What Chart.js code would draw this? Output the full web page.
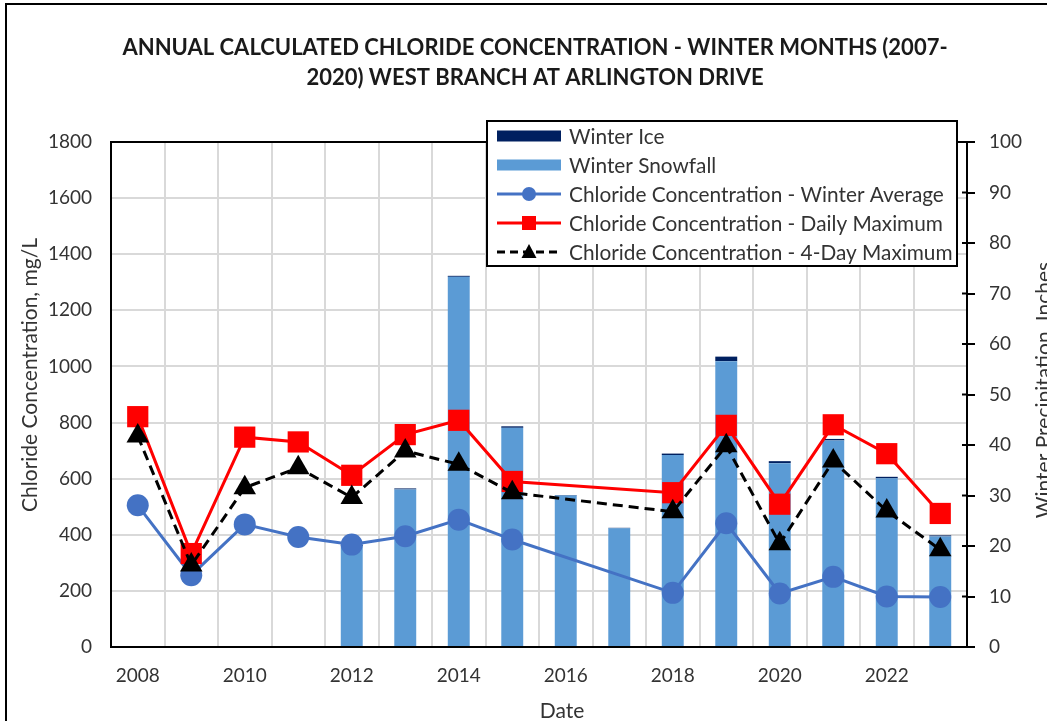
<!DOCTYPE html>
<html>
<head>
<meta charset="utf-8">
<script src="https://cdn.jsdelivr.net/npm/chart.js@4.4.1/dist/chart.umd.min.js"></script>
<style>
html,body{margin:0;padding:0;overflow:hidden;background:#fff;width:1047px;height:721px;}
#wrap{position:absolute;left:0;top:0;width:1080px;height:740px;}
</style>
</head>
<body>
<div id="wrap"><canvas id="c" width="1080" height="740" style="width:1080px;height:740px"></canvas></div>
<script>
// ---------- data ----------
const years = ['2008','2009','2010','2011','2012','2013','2014','2015','2016','2017','2018','2019','2020','2021','2022','2023'];
const xTickLabels = ['2008','2010','2012','2014','2016','2018','2020','2022'];
const winterSnowfall = [null,null,null,null,20.0,31.2,73.3,43.4,30.0,23.5,38.0,56.6,36.4,40.9,33.4,21.9];
const winterIce      = [null,null,null,null,0.2,0.2,0.2,0.3,0.1,0.1,0.3,0.9,0.4,0.3,0.3,0.2];
const winterAverage  = [505,256,437,392,365,395,454,383,null,null,193,441,191,250,180,178];
const dailyMaximum   = [821,333,748,731,612,757,808,590,null,null,550,790,509,792,689,476];
const fourDayMaximum = [752,292,568,639,533,699,651,550,null,null,482,717,368,663,485,347];
const leftAxisTicks  = [0,1800,200];   // min, max, step
const rightAxisTicks = [0,100,10];     // min, max, step

const titleLines = ['ANNUAL CALCULATED CHLORIDE CONCENTRATION - WINTER MONTHS (2007-', '2020) WEST BRANCH AT ARLINGTON DRIVE'];
const xTitle = 'Date';
const yTitle = 'Chloride Concentration, mg/L';
const y1Title = 'Winter Precipitation, Inches';

const TXT = '#333333';
const FONT = 'Lato';

const deco = {
  id: 'deco',
  beforeDraw(chart) {
    const c = chart.ctx;
    c.save();
    c.fillStyle = '#fff';
    c.fillRect(0, 0, chart.width, chart.height);
    c.restore();
  },
  afterDatasetsDraw(chart) {
    const c = chart.ctx;
    const a = chart.chartArea;
    c.save();
    // top border of plot area
    c.strokeStyle = '#000';
    c.lineWidth = 2;
    c.beginPath();
    c.moveTo(a.left, a.top);
    c.lineTo(a.right, a.top);
    c.stroke();
    // inner part of right axis tick marks
    const y1 = chart.scales.y1;
    y1.ticks.forEach(t => {
      const py = y1.getPixelForValue(t.value);
      c.beginPath();
      c.moveTo(a.right - 5, py);
      c.lineTo(a.right, py);
      c.stroke();
    });

    // legend
    const L = {x: 487, y: 121, w: 470, h: 145};
    c.fillStyle = '#fff';
    c.fillRect(L.x, L.y, L.w, L.h);
    c.strokeStyle = '#000';
    c.lineWidth = 2;
    c.strokeRect(L.x, L.y, L.w, L.h);
    const ds = chart.data.datasets;
    const order = [1, 0, 2, 3, 4];
    const rowY = [136, 165, 194, 223, 252];
    const sx0 = 497, sx1 = 561, tx = 569;
    c.font = '20.8px ' + FONT;
    c.textBaseline = 'middle';
    c.textAlign = 'left';
    order.forEach((di, k) => {
      const d = ds[di];
      const y = rowY[k];
      if (d.type === 'bar') {
        c.fillStyle = d.backgroundColor;
        c.fillRect(sx0, y - 5.5, sx1 - sx0, 11);
      } else {
        c.save();
        c.strokeStyle = d.borderColor;
        c.lineWidth = 3;
        if (d.borderDash) c.setLineDash([8, 5]);
        c.beginPath();
        c.moveTo(sx0, y);
        c.lineTo(sx1, y);
        c.stroke();
        c.restore();
        const mx = (sx0 + sx1) / 2;
        c.fillStyle = d.backgroundColor;
        c.beginPath();
        if (d.pointStyle === 'circle') {
          c.arc(mx, y, 7, 0, Math.PI * 2);
        } else if (d.pointStyle === 'rect') {
          c.rect(mx - 7, y - 7, 14, 14);
        } else {
          c.moveTo(mx, y - 8);
          c.lineTo(mx + 7.5, y + 6);
          c.lineTo(mx - 7.5, y + 6);
          c.closePath();
        }
        c.fill();
      }
      c.fillStyle = TXT;
      c.fillText(d.label, tx, y + 1);
    });
    c.restore();
  },
  afterDraw(chart) {
    const c = chart.ctx;
    c.save();
    // outer chart border
    c.strokeStyle = '#000';
    c.lineWidth = 2;
    c.strokeRect(6, 4, 1200, 900);
    // title
    c.fillStyle = '#1a1a1a';
    c.textAlign = 'center';
    c.textBaseline = 'alphabetic';
    c.font = 'bold 22px Lato';
    c.fillText(titleLines[0], 535, 55);
    c.fillText(titleLines[1], 535, 85);
    // axis titles
    c.fillStyle = TXT;
    c.font = '21px ' + FONT;
    c.fillText(xTitle, 562, 718);
    c.save();
    c.translate(37, 375);
    c.rotate(-Math.PI / 2);
    c.fillText(yTitle, 0, 0);
    c.restore();
    c.save();
    c.translate(1051, 390);
    c.rotate(-Math.PI / 2);
    c.fillText(y1Title, 0, 0);
    c.restore();
    c.restore();
  }
};

const tickFont = {family: FONT, size: 19};

new Chart(document.getElementById('c'), {
  type: 'bar',
  data: {
    labels: years,
    datasets: [
      {type: 'bar', label: 'Winter Snowfall', data: winterSnowfall, backgroundColor: '#5b9bd5',
       yAxisID: 'y1', stack: 'precip', order: 10, barPercentage: 0.41, categoryPercentage: 1},
      {type: 'bar', label: 'Winter Ice', data: winterIce, backgroundColor: '#002060',
       yAxisID: 'y1', stack: 'precip', order: 10, barPercentage: 0.41, categoryPercentage: 1},
      {type: 'line', label: 'Chloride Concentration - Winter Average', data: winterAverage,
       borderColor: '#4472c4', backgroundColor: '#4472c4', borderWidth: 3, tension: 0,
       pointStyle: 'circle', pointRadius: 11, pointBorderWidth: 0, pointBorderColor: '#4472c4',
       spanGaps: true, yAxisID: 'y', order: 3},
      {type: 'line', label: 'Chloride Concentration - Daily Maximum', data: dailyMaximum,
       borderColor: '#ff0000', backgroundColor: '#ff0000', borderWidth: 3, tension: 0,
       pointStyle: 'rect', pointRadius: 15, pointBorderWidth: 0, pointBorderColor: '#ff0000',
       spanGaps: true, yAxisID: 'y', order: 2},
      {type: 'line', label: 'Chloride Concentration - 4-Day Maximum', data: fourDayMaximum,
       borderColor: '#000000', backgroundColor: '#000000', borderWidth: 3, borderDash: [10, 6], tension: 0,
       pointStyle: 'triangle', pointRadius: 13, pointBorderWidth: 0, pointBorderColor: '#000000',
       spanGaps: true, yAxisID: 'y', order: 1}
    ]
  },
  options: {
    responsive: false,
    animation: false,
    devicePixelRatio: 1,
    layout: {padding: {top: 142, left: 0, right: 0, bottom: 0}},
    plugins: {legend: {display: false}, tooltip: {enabled: false}, title: {display: false}},
    scales: {
      x: {
        stacked: true,
        offset: true,
        grid: {offset: true, color: '#d9d9d9', lineWidth: 2, drawTicks: false},
        border: {color: '#000', width: 2},
        ticks: {autoSkip: false, maxRotation: 0, minRotation: 0, font: tickFont, color: TXT, padding: 17,
                callback: function (v, i) { return xTickLabels.includes(years[i]) ? years[i] : ''; }},
        afterFit: s => { s.height = 93; }
      },
      y: {
        position: 'left',
        min: leftAxisTicks[0], max: leftAxisTicks[1],
        grid: {color: '#d9d9d9', lineWidth: 2, drawTicks: false},
        border: {color: '#000', width: 2},
        ticks: {stepSize: leftAxisTicks[2], font: tickFont, color: TXT, padding: 19,
                callback: v => String(v)},
        afterFit: s => { s.width = 111; }
      },
      y1: {
        position: 'right',
        stacked: true,
        min: rightAxisTicks[0], max: rightAxisTicks[1],
        grid: {drawOnChartArea: false, drawTicks: true, tickLength: 8, color: '#000', lineWidth: 2},
        border: {color: '#000', width: 2},
        ticks: {stepSize: rightAxisTicks[2], font: tickFont, color: TXT, padding: 14,
                callback: v => String(v)},
        afterFit: s => { s.width = 113; }
      }
    }
  },
  plugins: [deco]
});
</script>
</body>
</html>
